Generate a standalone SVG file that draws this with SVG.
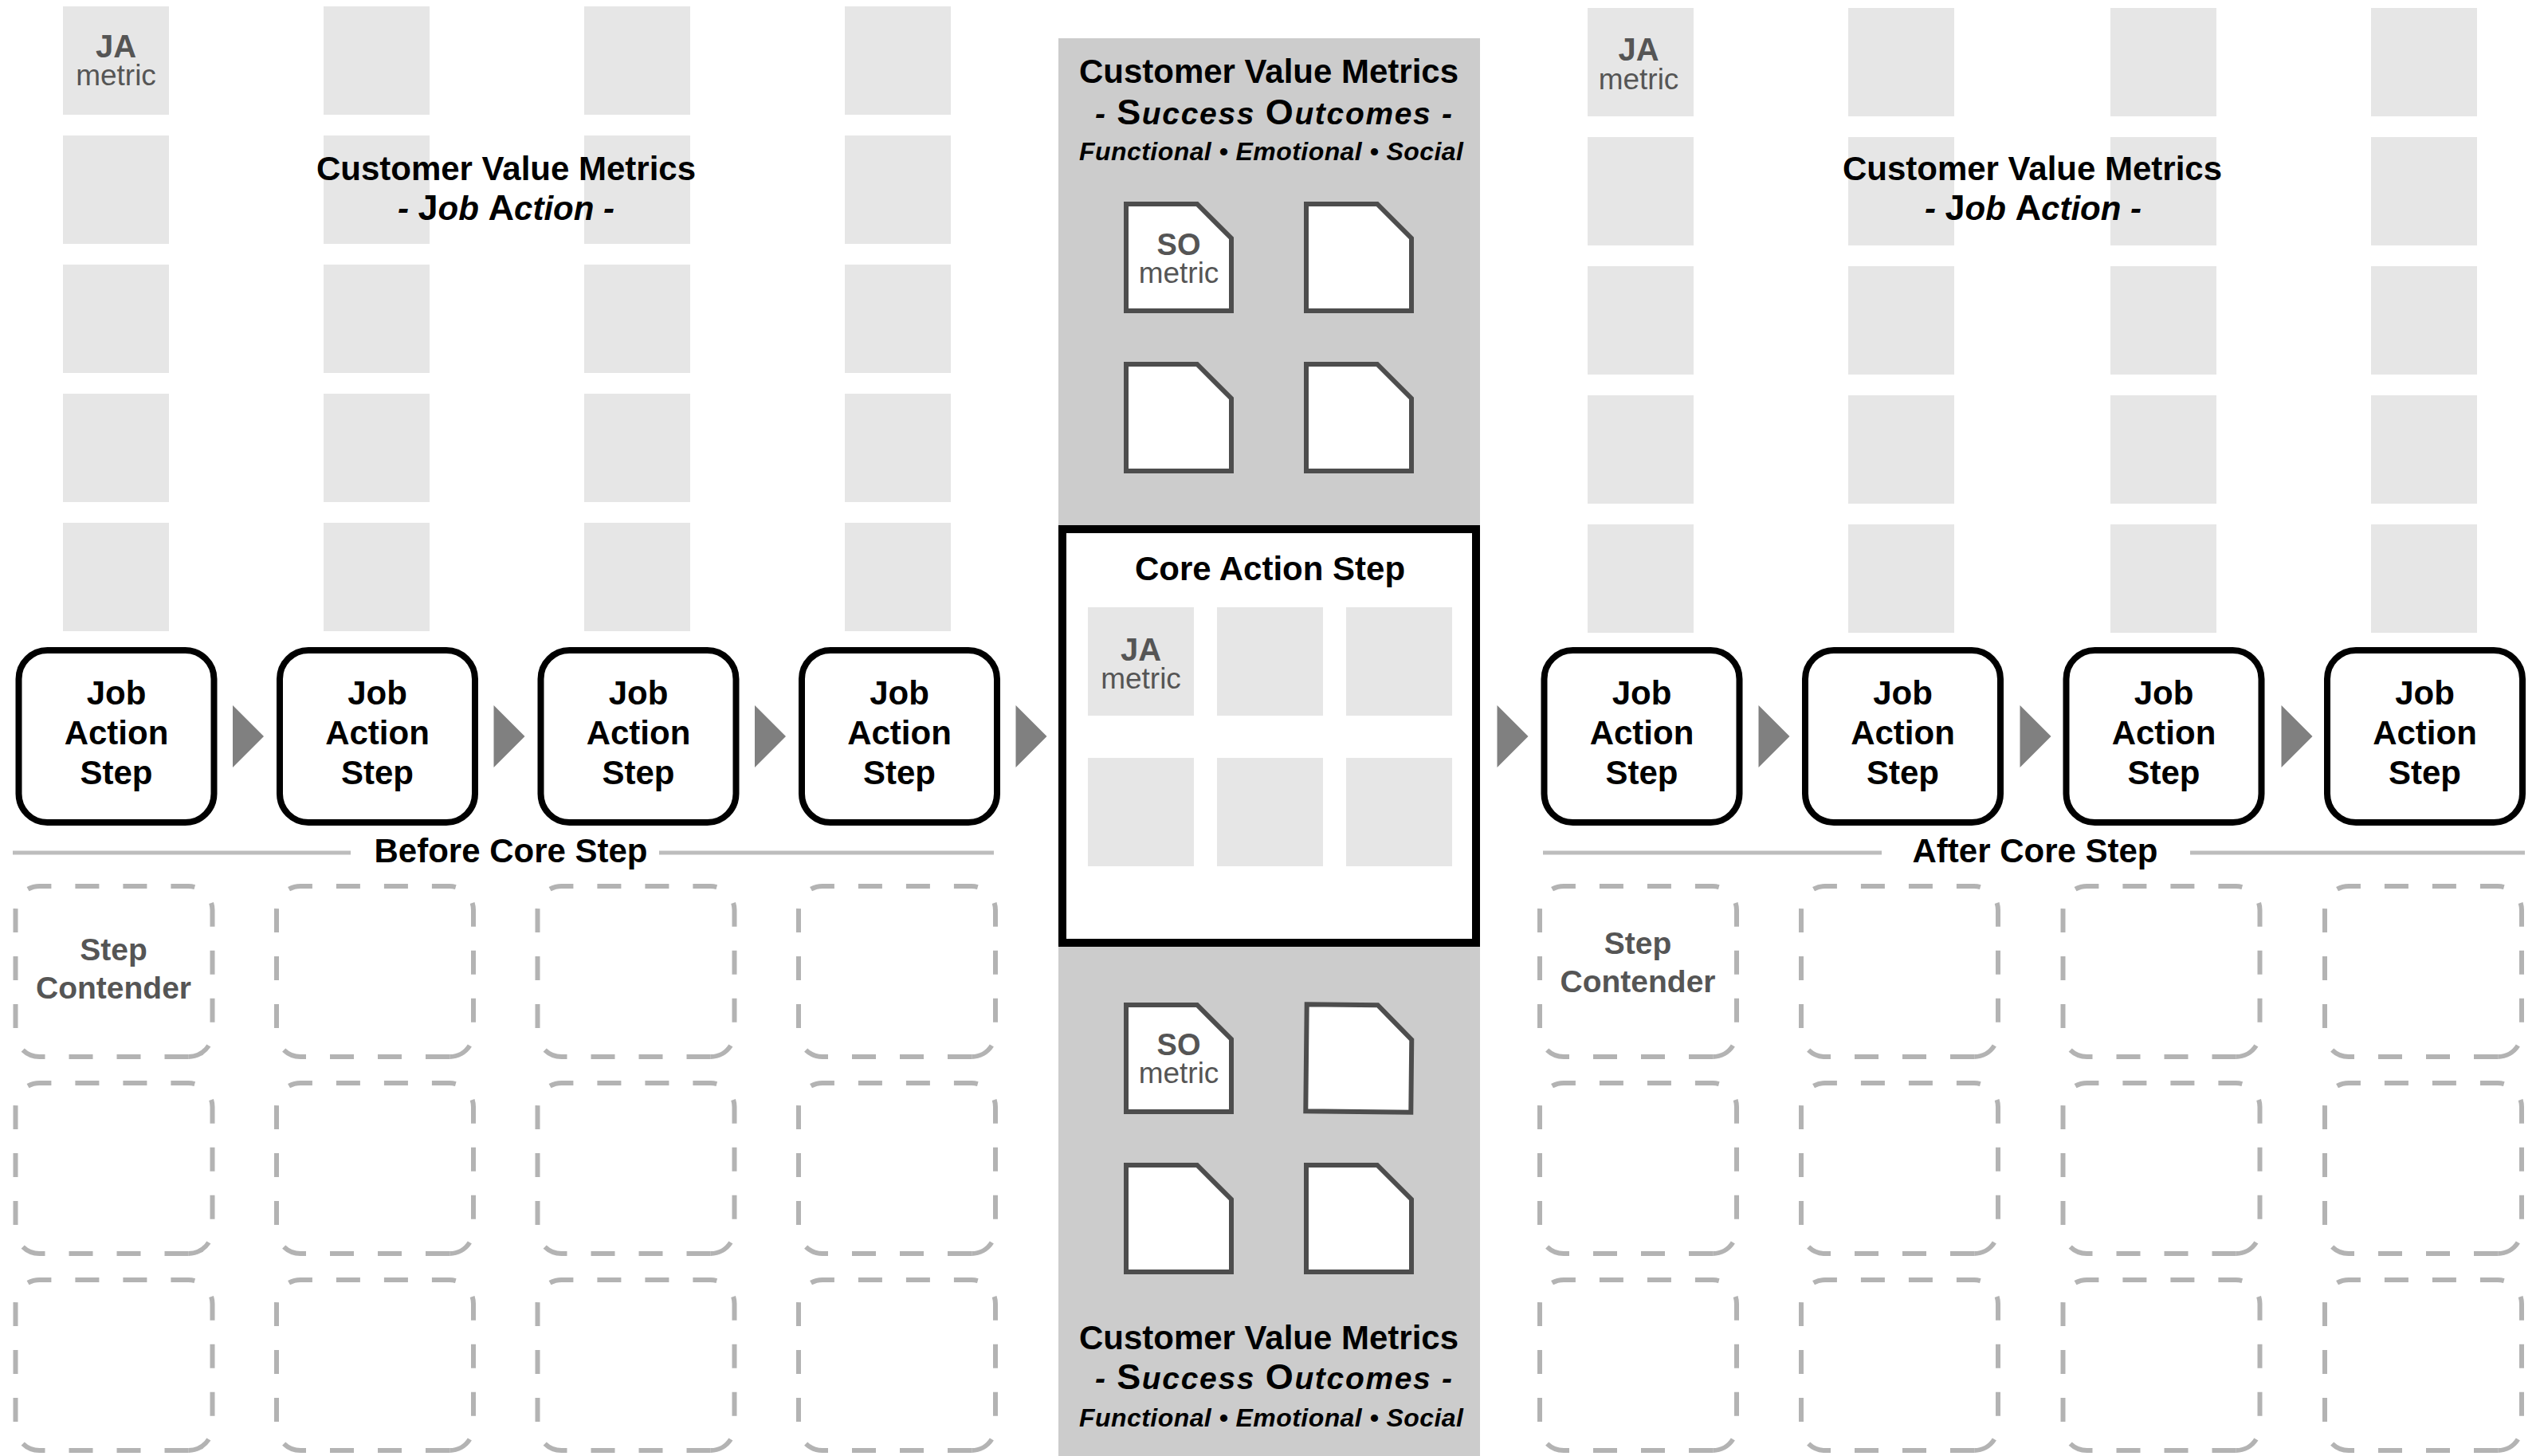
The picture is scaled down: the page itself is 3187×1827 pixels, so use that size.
<svg xmlns="http://www.w3.org/2000/svg" xmlns:xlink="http://www.w3.org/1999/xlink" width="3187" height="1827" viewBox="0 0 3187 1827">
<style>
text{font-family:"Liberation Sans",Arial,sans-serif;text-anchor:middle}
.m{fill:#e6e6e6}
.js{fill:#fff;stroke:#000;stroke-width:8}
.t42{font-size:42px;font-weight:bold;fill:#000}
.succ{font-size:39px;font-weight:bold;fill:#000}
.big{font-size:45px;font-style:normal}
.fes{font-size:32px;font-weight:bold;font-style:italic;fill:#000}
.it{font-style:italic}
.arr{fill:#808080}
.dash{fill:none;stroke:#b3b3b3;stroke-width:6;stroke-dasharray:30 30}
.so{fill:#fff;stroke:#4d4d4d;stroke-width:6}
.ja{font-size:40px;font-weight:bold;fill:#555}
.sol{font-size:38px;font-weight:bold;fill:#555}
.met{font-size:37px;fill:#555}
.sc{font-size:39px;font-weight:bold;fill:#555}
.sep{stroke:#bdbdbd;stroke-width:5}
</style>
<defs>
<path id="dbox" class="dash" d="M217 214H30A30 30 0 0 1 0 184V30A30 30 0 0 1 30 0H217A30 30 0 0 1 247 30V184A30 30 0 0 1 217 214Z"/>
<path id="sobox" class="so" d="M0 0H89L132 43V134H0Z"/>
<rect id="mb" class="m" width="133" height="136"/>
<rect id="jbox" class="js" width="245" height="216" rx="36" ry="36"/>
</defs>
<rect width="3187" height="1827" fill="#fff"/>

<!-- Left metric grid -->
<g id="left-metrics">
<use href="#mb" x="79" y="8"/><use href="#mb" x="406" y="8"/><use href="#mb" x="733" y="8"/><use href="#mb" x="1060" y="8"/>
<use href="#mb" x="79" y="170"/><use href="#mb" x="406" y="170"/><use href="#mb" x="733" y="170"/><use href="#mb" x="1060" y="170"/>
<use href="#mb" x="79" y="332"/><use href="#mb" x="406" y="332"/><use href="#mb" x="733" y="332"/><use href="#mb" x="1060" y="332"/>
<use href="#mb" x="79" y="494"/><use href="#mb" x="406" y="494"/><use href="#mb" x="733" y="494"/><use href="#mb" x="1060" y="494"/>
<use href="#mb" x="79" y="656"/><use href="#mb" x="406" y="656"/><use href="#mb" x="733" y="656"/><use href="#mb" x="1060" y="656"/>
<text class="ja" x="145.5" y="72">JA</text>
<text class="met" x="145.5" y="107">metric</text>
</g>
<g id="left-title">
<text class="t42" x="635" y="226">Customer Value Metrics</text>
<text class="t42" x="635" y="276"><tspan class="it">- </tspan><tspan class="big">J</tspan><tspan class="it">ob </tspan><tspan class="big">A</tspan><tspan class="it">ction -</tspan></text>
</g>

<!-- Right metric grid -->
<g id="right-metrics">
<use href="#mb" x="1992" y="10"/><use href="#mb" x="2319" y="10"/><use href="#mb" x="2648" y="10"/><use href="#mb" x="2975" y="10"/>
<use href="#mb" x="1992" y="172"/><use href="#mb" x="2319" y="172"/><use href="#mb" x="2648" y="172"/><use href="#mb" x="2975" y="172"/>
<use href="#mb" x="1992" y="334"/><use href="#mb" x="2319" y="334"/><use href="#mb" x="2648" y="334"/><use href="#mb" x="2975" y="334"/>
<use href="#mb" x="1992" y="496"/><use href="#mb" x="2319" y="496"/><use href="#mb" x="2648" y="496"/><use href="#mb" x="2975" y="496"/>
<use href="#mb" x="1992" y="658"/><use href="#mb" x="2319" y="658"/><use href="#mb" x="2648" y="658"/><use href="#mb" x="2975" y="658"/>
<text class="ja" x="2056" y="76">JA</text>
<text class="met" x="2056" y="112">metric</text>
</g>
<g id="right-title">
<text class="t42" x="2550" y="226">Customer Value Metrics</text>
<text class="t42" x="2551" y="276"><tspan class="it">- </tspan><tspan class="big">J</tspan><tspan class="it">ob </tspan><tspan class="big">A</tspan><tspan class="it">ction -</tspan></text>
</g>

<!-- Center panel -->
<g id="center-panel">
<rect x="1328" y="48" width="529" height="1779" fill="#ccc"/>
</g>
<g id="so-top">
<text class="t42" x="1592" y="104">Customer Value Metrics</text>
<text class="succ" x="1598" y="156" textLength="448" lengthAdjust="spacing"><tspan class="it">- </tspan><tspan class="big">S</tspan><tspan class="it">uccess </tspan><tspan class="big">O</tspan><tspan class="it">utcomes -</tspan></text>
<text class="fes" x="1595" y="201" textLength="482" lengthAdjust="spacing">Functional • Emotional • Social</text>
<use href="#sobox" x="1413" y="256"/>
<use href="#sobox" x="1639" y="256"/>
<use href="#sobox" x="1413" y="457"/>
<use href="#sobox" x="1639" y="457"/>
<text class="sol" x="1479" y="320">SO</text>
<text class="met" x="1479" y="355">metric</text>
</g>

<g id="core-action-step">
<rect x="1333" y="664" width="519" height="519" fill="#fff" stroke="#000" stroke-width="10"/>
<text class="t42" x="1593.5" y="728">Core Action Step</text>
<use href="#mb" x="1365" y="762"/><use href="#mb" x="1527" y="762"/><use href="#mb" x="1689" y="762"/>
<use href="#mb" x="1365" y="951"/><use href="#mb" x="1527" y="951"/><use href="#mb" x="1689" y="951"/>
<text class="ja" x="1431.5" y="829">JA</text>
<text class="met" x="1431.5" y="864">metric</text>
</g>

<g id="so-bottom">
<use href="#sobox" x="1413" y="1261"/>
<use href="#sobox" x="1639" y="1261" transform="rotate(0.6 1705 1328)"/>
<use href="#sobox" x="1413" y="1462"/>
<use href="#sobox" x="1639" y="1462"/>
<text class="sol" x="1479" y="1324">SO</text>
<text class="met" x="1479" y="1359">metric</text>
<text class="t42" x="1592" y="1693">Customer Value Metrics</text>
<text class="succ" x="1598" y="1743" textLength="448" lengthAdjust="spacing"><tspan class="it">- </tspan><tspan class="big">S</tspan><tspan class="it">uccess </tspan><tspan class="big">O</tspan><tspan class="it">utcomes -</tspan></text>
<text class="fes" x="1595" y="1790" textLength="482" lengthAdjust="spacing">Functional • Emotional • Social</text>
</g>

<!-- Job action steps -->
<g id="jas-l1"><use href="#jbox" x="23.5" y="816"/><text class="t42" x="146" y="884">Job</text><text class="t42" x="146" y="934">Action</text><text class="t42" x="146" y="984">Step</text></g>
<g id="jas-l2"><use href="#jbox" x="351" y="816"/><text class="t42" x="473.5" y="884">Job</text><text class="t42" x="473.5" y="934">Action</text><text class="t42" x="473.5" y="984">Step</text></g>
<g id="jas-l3"><use href="#jbox" x="678.5" y="816"/><text class="t42" x="801" y="884">Job</text><text class="t42" x="801" y="934">Action</text><text class="t42" x="801" y="984">Step</text></g>
<g id="jas-l4"><use href="#jbox" x="1006" y="816"/><text class="t42" x="1128.5" y="884">Job</text><text class="t42" x="1128.5" y="934">Action</text><text class="t42" x="1128.5" y="984">Step</text></g>
<g id="jas-r1"><use href="#jbox" x="1937.5" y="816"/><text class="t42" x="2060" y="884">Job</text><text class="t42" x="2060" y="934">Action</text><text class="t42" x="2060" y="984">Step</text></g>
<g id="jas-r2"><use href="#jbox" x="2265" y="816"/><text class="t42" x="2387.5" y="884">Job</text><text class="t42" x="2387.5" y="934">Action</text><text class="t42" x="2387.5" y="984">Step</text></g>
<g id="jas-r3"><use href="#jbox" x="2592.5" y="816"/><text class="t42" x="2715" y="884">Job</text><text class="t42" x="2715" y="934">Action</text><text class="t42" x="2715" y="984">Step</text></g>
<g id="jas-r4"><use href="#jbox" x="2920" y="816"/><text class="t42" x="3042.5" y="884">Job</text><text class="t42" x="3042.5" y="934">Action</text><text class="t42" x="3042.5" y="984">Step</text></g>

<!-- Connectors -->
<g id="connectors">
<polygon class="arr" points="292,885 331,924 292,963"/>
<polygon class="arr" points="619.5,885 658.5,924 619.5,963"/>
<polygon class="arr" points="947,885 986,924 947,963"/>
<polygon class="arr" points="1274.5,885 1313.5,924 1274.5,963"/>
<polygon class="arr" points="1878.5,885 1917.5,924 1878.5,963"/>
<polygon class="arr" points="2206.5,885 2245.5,924 2206.5,963"/>
<polygon class="arr" points="2534.5,885 2573.5,924 2534.5,963"/>
<polygon class="arr" points="2862.5,885 2901.5,924 2862.5,963"/>
</g>

<!-- Separators -->
<g id="before-core">
<line class="sep" x1="16" y1="1070" x2="440" y2="1070"/>
<line class="sep" x1="827" y1="1070" x2="1247" y2="1070"/>
<text class="t42" x="641" y="1082">Before Core Step</text>
</g>
<g id="after-core">
<line class="sep" x1="1936" y1="1070" x2="2361" y2="1070"/>
<line class="sep" x1="2748" y1="1070" x2="3168" y2="1070"/>
<text class="t42" x="2553.5" y="1082">After Core Step</text>
</g>

<!-- Step contenders -->
<g id="contenders-left">
<use href="#dbox" x="19.5" y="1112"/><use href="#dbox" x="347" y="1112"/><use href="#dbox" x="674.5" y="1112"/><use href="#dbox" x="1002" y="1112"/>
<use href="#dbox" x="19.5" y="1359"/><use href="#dbox" x="347" y="1359"/><use href="#dbox" x="674.5" y="1359"/><use href="#dbox" x="1002" y="1359"/>
<use href="#dbox" x="19.5" y="1606"/><use href="#dbox" x="347" y="1606"/><use href="#dbox" x="674.5" y="1606"/><use href="#dbox" x="1002" y="1606"/>
<text class="sc" x="142.5" y="1205">Step</text>
<text class="sc" x="142.5" y="1253">Contender</text>
</g>
<g id="contenders-right">
<use href="#dbox" x="1932" y="1112"/><use href="#dbox" x="2260" y="1112"/><use href="#dbox" x="2588.5" y="1112"/><use href="#dbox" x="2917" y="1112"/>
<use href="#dbox" x="1932" y="1359"/><use href="#dbox" x="2260" y="1359"/><use href="#dbox" x="2588.5" y="1359"/><use href="#dbox" x="2917" y="1359"/>
<use href="#dbox" x="1932" y="1606"/><use href="#dbox" x="2260" y="1606"/><use href="#dbox" x="2588.5" y="1606"/><use href="#dbox" x="2917" y="1606"/>
<text class="sc" x="2055" y="1197">Step</text>
<text class="sc" x="2055" y="1245">Contender</text>
</g>
</svg>
